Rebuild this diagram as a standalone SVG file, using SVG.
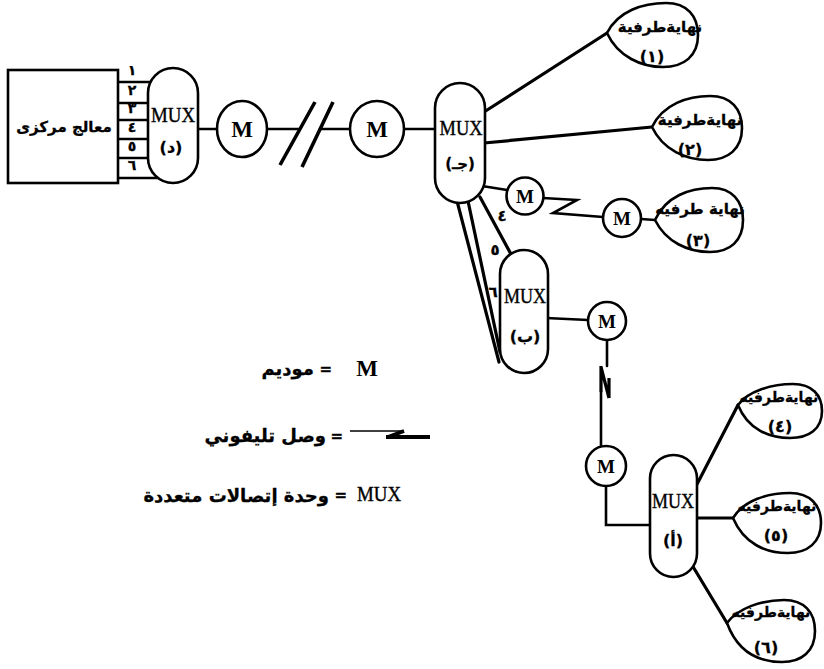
<svg xmlns="http://www.w3.org/2000/svg" width="824" height="669" viewBox="0 0 824 669">
<style>
.ln{stroke:#000;stroke-width:2.6;fill:none;stroke-linecap:round}
.th{stroke:#000;stroke-width:3.2;fill:none;stroke-linecap:round}
.sh{stroke:#000;stroke-width:2.6;fill:#fff}
.mux{font-family:"Liberation Serif",serif;font-size:21px;text-anchor:middle;fill:#000;stroke:#000;stroke-width:0.4}
.m{font-family:"Liberation Serif",serif;font-size:23px;font-weight:bold;text-anchor:middle;fill:#000}
.ms{font-family:"Liberation Serif",serif;font-size:19px;font-weight:bold;text-anchor:middle;fill:#000}
.ar{font-family:"DejaVu Sans",sans-serif;font-weight:bold;font-size:14px;text-anchor:middle;fill:#000;stroke:#000;stroke-width:0.3}
.arl{font-family:"DejaVu Sans",sans-serif;font-weight:bold;font-size:15px;text-anchor:end;fill:#000;stroke:#000;stroke-width:0.3}
</style>
<rect width="824" height="669" fill="#fff"/>
<g id="connectors">
  <path class="ln" d="M118,82H172M118,103H172M118,120H172M118,139H172M118,158H172M118,178H172"/>
  <path class="ln" d="M198,129H217M267,129H300M320,129H350M404,129H436"/>
  <path d="M315,102L280,165M333,102L302,167" stroke="#000" stroke-width="3.6" fill="none"/>
  <path class="th" d="M484,112L607,33"/>
  <path class="th" d="M484,143L652,127"/>
  <path class="ln" d="M482,186L507,190"/>
  <path class="ln" d="M543,198L577,200L553,213L603,217"/>
  <path class="ln" d="M641,219L655,220"/>
  <path class="th" d="M480,197L512,256M468,201L500,352M457,201L499,362"/>
  <path class="ln" d="M546,318L588,320"/>
  <path class="ln" d="M607,340V366M601,392V446"/>
  <path d="M601,366V392M601,367L609,398M609,378V398" stroke="#000" stroke-width="3.2" fill="none"/>
  <path class="ln" d="M606,486V525H660"/>
  <path class="th" d="M694,490L738,405M695,518H733M692,565L727,623"/>
</g>
<g id="cpu">
  <rect x="8" y="70" width="110" height="113" class="sh"/>
  <text class="ar" x="64" y="132" style="font-size:15px">معالج مركزى</text>
  <text class="ar" x="132" y="75">١</text>
  <text class="ar" x="132" y="95">٢</text>
  <text class="ar" x="132" y="113">٣</text>
  <text class="ar" x="132" y="132">٤</text>
  <text class="ar" x="132" y="151">٥</text>
  <text class="ar" x="132" y="170">٦</text>
</g>
<g id="mux-d">
  <rect x="148" y="68" width="50" height="115" rx="25" class="sh"/>
  <text class="mux" x="173" y="122" textLength="44" lengthAdjust="spacingAndGlyphs">MUX</text>
  <text class="ar" x="171" y="153" style="font-size:16px">(د)</text>
</g>
<g id="modem-1">
  <ellipse cx="242" cy="129" rx="25" ry="28" class="sh"/>
  <text class="m" x="242" y="137">M</text>
</g>
<g id="modem-2">
  <ellipse cx="377" cy="129" rx="27" ry="28" class="sh"/>
  <text class="m" x="377" y="137">M</text>
</g>
<g id="mux-j">
  <rect x="435" y="83" width="50" height="120" rx="25" class="sh"/>
  <text class="mux" x="461" y="135" textLength="43" lengthAdjust="spacingAndGlyphs">MUX</text>
  <text class="ar" x="460" y="169" style="font-size:15px">(جـ)</text>
</g>
<g id="labels-456">
  <text class="ar" x="502" y="221" style="font-size:15px">٤</text>
  <text class="ar" x="495" y="255" style="font-size:15px">٥</text>
  <text class="ar" x="493" y="297" style="font-size:15px">٦</text>
</g>
<g id="terminal-1">
  <path class="sh" d="M607,33 C618,11 643,3 666,3 C687,3 698,16 698,35 C698,56 684,67 663,67 C642,67 618,57 607,33 Z"/>
  <text class="ar" x="660" y="32" style="font-size:15px">نهايةطرفية</text>
  <text class="ar" x="652" y="62" style="font-size:16px">(١)</text>
</g>
<g id="terminal-2">
  <path class="sh" d="M652,127 C663,104 688,96 710,96 C731,96 742,109 742,128 C742,149 728,160 708,160 C686,160 663,150 652,127 Z"/>
  <text class="ar" x="700" y="125" style="font-size:15px">نهايةطرفية</text>
  <text class="ar" x="690" y="155" style="font-size:16px">(٢)</text>
</g>
<g id="modem-3">
  <circle cx="525" cy="196" r="18.5" class="sh"/>
  <text class="ms" x="525" y="203">M</text>
</g>
<g id="modem-4">
  <circle cx="622" cy="218" r="19" class="sh"/>
  <text class="ms" x="622" y="225">M</text>
</g>
<g id="terminal-3">
  <path class="sh" d="M655,220 C666,196 690,188 712,188 C732,188 743,201 743,220 C743,241 730,252 710,252 C688,252 666,242 655,220 Z"/>
  <text class="ar" x="700" y="214" style="font-size:15px">نهاية طرفيه</text>
  <text class="ar" x="698" y="246" style="font-size:16px">(٣)</text>
</g>
<g id="mux-b">
  <rect x="500" y="250" width="48" height="123" rx="24" class="sh"/>
  <text class="mux" x="525" y="303" textLength="42" lengthAdjust="spacingAndGlyphs">MUX</text>
  <text class="ar" x="525" y="342" style="font-size:16px">(ب)</text>
</g>
<g id="modem-5">
  <circle cx="607" cy="321" r="19" class="sh"/>
  <text class="ms" x="607" y="328">M</text>
</g>
<g id="modem-6">
  <circle cx="606" cy="466" r="20" class="sh"/>
  <text class="ms" x="606" y="473">M</text>
</g>
<g id="mux-a">
  <rect x="650" y="455" width="47" height="122" rx="23.5" class="sh"/>
  <text class="mux" x="673" y="508" textLength="42" lengthAdjust="spacingAndGlyphs">MUX</text>
  <text class="ar" x="673" y="546" style="font-size:16px">(أ)</text>
</g>
<g id="terminal-4">
  <path class="sh" d="M738,405 C748,391 772,384 793,384 C812,384 822,395 822,411 C822,429 809,438 790,438 C770,438 748,430 738,405 Z"/>
  <text class="ar" x="779" y="402" style="font-size:14px">نهايةطرفيه</text>
  <text class="ar" x="780" y="432" style="font-size:16px">(٤)</text>
</g>
<g id="terminal-5">
  <path class="sh" d="M733,518 C744,500 768,493 790,493 C810,493 821,505 821,523 C821,542 808,553 788,553 C766,553 744,544 733,518 Z"/>
  <text class="ar" x="777" y="511" style="font-size:14px">نهايةطرفيه</text>
  <text class="ar" x="776" y="541" style="font-size:16px">(٥)</text>
</g>
<g id="terminal-6">
  <path class="sh" d="M727,623 C738,608 762,600 784,600 C804,600 815,612 815,631 C815,651 802,662 782,662 C760,662 738,653 727,623 Z"/>
  <text class="ar" x="771" y="617" style="font-size:14px">نهايةطرفيه</text>
  <text class="ar" x="766" y="653" style="font-size:16px">(٦)</text>
</g>
<g id="legend">
  <text class="m" x="367" y="376">M</text>
  <text class="arl" x="332" y="374">=</text>
  <text class="arl" x="314" y="375" style="font-size:18px">موديم</text>
  <path d="M350,431H404" stroke="#000" stroke-width="1.6" fill="none"/>
  <path d="M404,431L388,437" stroke="#000" stroke-width="3.8" fill="none"/>
  <path d="M386,437H430" stroke="#000" stroke-width="4.2" fill="none"/>
  <text class="arl" x="343" y="441">=</text>
  <text class="arl" x="326" y="442" style="font-size:18px">وصل تليفوني</text>
  <text class="mux" x="379" y="501" textLength="44" lengthAdjust="spacingAndGlyphs">MUX</text>
  <text class="arl" x="347" y="500">=</text>
  <text class="arl" x="329" y="502" style="font-size:18px">وحدة إتصالات متعددة</text>
</g>
</svg>
